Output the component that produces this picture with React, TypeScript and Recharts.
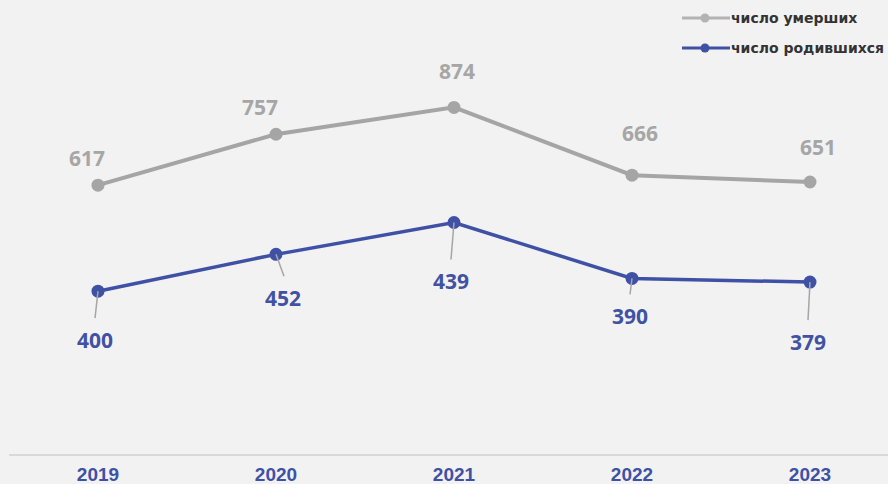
import React from "react";
import { LineChart, Line, XAxis, YAxis, LabelList } from "recharts";

// категории и значения
const years = ["2019", "2020", "2021", "2022", "2023"];
// положение точек на графике (оценено по рисунку)
const deathsPlot = [593, 705, 764, 615, 600];
const birthsPlot = [360, 441, 511, 388, 380];
// подписи значений
const deathsLabels = [617, 757, 874, 666, 651];
const birthsLabels = [400, 452, 439, 390, 379];

const GRAY = "#a5a5a5";
const BLUE = "#3f51a5";
const LABEL_FONT = "'Open Sans', 'Liberation Sans', sans-serif";

// сдвиги подписей относительно точек
const deathsNudge = [
  [-11, -27],
  [-16, -27],
  [3, -36],
  [8, -42],
  [8, -35],
];
const birthsNudge = [
  [-3, 49, -3],
  [7, 44, 8],
  [-3, 59, -3],
  [-2, 38, -2],
  [-2, 60, -2],
];

const data = years.map((year, i) => ({
  year,
  deaths: deathsPlot[i],
  births: birthsPlot[i],
  deathsLabel: deathsLabels[i],
  birthsLabel: birthsLabels[i],
}));

function DeathsLabel(props: any) {
  const { x, y, index, value } = props;
  const [dx, dy] = deathsNudge[index] || [0, -27];
  return (
    <text
      x={x + dx}
      y={y + dy}
      textAnchor="middle"
      dominantBaseline="central"
      fill="#a6a6a6"
      fontFamily={LABEL_FONT}
      fontWeight={700}
      fontSize={21}
    >
      {value}
    </text>
  );
}

function BirthsLabel(props: any) {
  const { x, y, index, value } = props;
  const [dx, dy, lx] = birthsNudge[index] || [0, 45, 0];
  return (
    <g>
      <line x1={x} y1={y} x2={x + lx} y2={y + dy - 22} stroke="#a6a6a6" strokeWidth={1.5} />
      <text
        x={x + dx}
        y={y + dy}
        textAnchor="middle"
        dominantBaseline="central"
        fill="#4152a2"
        fontFamily={LABEL_FONT}
        fontWeight={700}
        fontSize={21}
      >
        {value}
      </text>
    </g>
  );
}

function YearTick(props: any) {
  const { x, y, payload } = props;
  return (
    <text
      x={x}
      y={y + 26}
      textAnchor="middle"
      fill={BLUE}
      fontFamily="'Liberation Sans Narrow', 'Arial Narrow', sans-serif"
      fontWeight={700}
      fontSize={19}
    >
      {payload.value}
    </text>
  );
}

function LegendOverlay() {
  const items = [
    { name: "число умерших", color: "#b3b3b3", y: 18 },
    { name: "число родившихся", color: BLUE, y: 48 },
  ];
  return (
    <svg width={888} height={70} style={{ position: "absolute", left: 0, top: 0 }}>
      {items.map((it) => (
        <g key={it.name}>
          <line x1={682} y1={it.y} x2={730} y2={it.y} stroke={it.color} strokeWidth={3} />
          <circle cx={705} cy={it.y} r={4.5} fill={it.color} />
          <text
            x={731}
            y={it.y + 5}
            fill="#333"
            fontFamily="'DejaVu Sans', sans-serif"
            fontWeight={700}
            fontSize={14}
          >
            {it.name}
          </text>
        </g>
      ))}
    </svg>
  );
}

export default function App() {
  return (
    <div
      style={{
        position: "fixed",
        left: 0,
        top: 0,
        width: 888,
        height: 484,
        overflow: "hidden",
        background: "#f2f2f2",
      }}
    >
      <LineChart width={900} height={484} data={data} margin={{ top: 0, right: 1, left: 9, bottom: 0 }}>
        <XAxis
          dataKey="year"
          axisLine={{ stroke: "#d9d9d9", strokeWidth: 2 }}
          tickLine={false}
          tickSize={0}
          tickMargin={0}
          height={29}
          padding={{ left: 89, right: 89 }}
          tick={<YearTick />}
          interval={0}
        />
        <YAxis hide domain={[0, 1000]} />
        <Line
          dataKey="deaths"
          stroke={GRAY}
          strokeWidth={4}
          dot={{ r: 6.5, fill: GRAY, stroke: GRAY, strokeWidth: 0 }}
          isAnimationActive={false}
        >
          <LabelList dataKey="deathsLabel" content={<DeathsLabel />} />
        </Line>
        <Line
          dataKey="births"
          stroke={BLUE}
          strokeWidth={3.5}
          dot={{ r: 6.5, fill: BLUE, stroke: BLUE, strokeWidth: 0 }}
          isAnimationActive={false}
        >
          <LabelList dataKey="birthsLabel" content={<BirthsLabel />} />
        </Line>
      </LineChart>
      <LegendOverlay />
    </div>
  );
}
